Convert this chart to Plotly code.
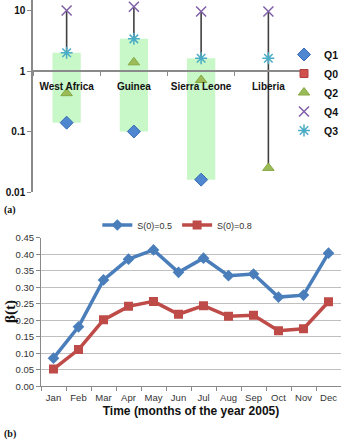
import plotly.graph_objects as go

# ---------------- data: panel (a) ----------------
regions = ["West Africa", "Guinea", "Sierra Leone", "Liberia"]
q1 = [0.14, 0.10, 0.016, None]
q0 = [None, None, None, None]
q2 = [0.43, 1.39, 0.71, 0.025]
q4 = [10.0, 11.5, 9.6, 9.6]
q3 = [2.0, 3.4, 1.62, 1.62]

log_ticks = [0.01, 0.1, 1, 10]
log_tick_labels = ["0.01", "0.1", "1", "10"]

# ---------------- data: panel (b) ----------------
months = ["Jan", "Feb", "Mar", "Apr", "May", "Jun", "Jul", "Aug", "Sep", "Oct", "Nov", "Dec"]
beta_s05 = [0.085, 0.180, 0.322, 0.385, 0.413, 0.345, 0.388, 0.335, 0.340, 0.270, 0.276, 0.403]
beta_s08 = [0.052, 0.111, 0.201, 0.242, 0.257, 0.218, 0.244, 0.212, 0.215, 0.168, 0.174, 0.256]

fig = go.Figure()

# high-low lines (outside the boxes)
seg_x, seg_y = [], []
for i, r in enumerate(regions):
    vals = [v for v in (q1[i], q0[i], q2[i], q3[i], q4[i]) if v is not None]
    hi, lo = max(vals), min(vals)
    if q1[i] is not None and q3[i] is not None:
        top, bot = max(q1[i], q3[i]), min(q1[i], q3[i])
        seg_x += [r, r, None, r, r, None]
        seg_y += [top, hi, None, lo, bot, None]
    else:
        seg_x += [r, r, None]
        seg_y += [lo, hi, None]

# boxes Q1..Q3
box_base = [a if (a is not None and b is not None) else None for a, b in zip(q1, q3)]
box_len = [(b - a) if (a is not None and b is not None) else None for a, b in zip(q1, q3)]
fig.add_trace(go.Bar(x=regions, y=box_len, base=box_base, width=0.42,
                     marker=dict(color="#c8f8c8", line=dict(width=0)),
                     showlegend=False, hoverinfo="skip", xaxis="x", yaxis="y"))
fig.add_trace(go.Scatter(x=seg_x, y=seg_y, mode="lines",
                         line=dict(color="#404040", width=1.6),
                         showlegend=False, hoverinfo="skip", xaxis="x", yaxis="y"))

mk = dict(mode="markers", xaxis="x", yaxis="y", legend="legend", cliponaxis=False)
fig.add_trace(go.Scatter(x=regions, y=q1, name="Q1",
                         marker=dict(symbol="diamond", size=10, color="#4f86d0",
                                     line=dict(color="#3a6db3", width=1)), **mk))
fig.add_trace(go.Scatter(x=regions, y=q0, name="Q0",
                         marker=dict(symbol="square", size=8, color="#d0504d",
                                     line=dict(color="#b04040", width=1)), **mk))
fig.add_trace(go.Scatter(x=regions, y=q2, name="Q2",
                         marker=dict(symbol="triangle-up", size=10, color="#9bbb59",
                                     line=dict(color="#86a844", width=1)), **mk))
fig.add_trace(go.Scatter(x=regions, y=q4, name="Q4",
                         marker=dict(symbol="x-thin-open", size=10, color="#7f5fa8",
                                     line=dict(color="#7f5fa8", width=1.5)), **mk))
fig.add_trace(go.Scatter(x=regions, y=q3, name="Q3",
                         marker=dict(symbol="asterisk-open", size=10, color="#4bacc6",
                                     line=dict(color="#4bacc6", width=1.5)), **mk))

# panel (b)
fig.add_trace(go.Scatter(x=months, y=beta_s05, name="S(0)=0.5", mode="lines+markers",
                         line=dict(color="#4a7ebb", width=3.5),
                         marker=dict(symbol="diamond", size=9, color="#4a7ebb"),
                         xaxis="x2", yaxis="y2", legend="legend2"))
fig.add_trace(go.Scatter(x=months, y=beta_s08, name="S(0)=0.8", mode="lines+markers",
                         line=dict(color="#be4b48", width=3.5),
                         marker=dict(symbol="square", size=9, color="#be4b48"),
                         xaxis="x2", yaxis="y2", legend="legend2"))

W, H = 341, 440
top_dom = [1 - 192 / H, 1.0]
bot_dom = [1 - 386.2 / H, 1 - 237.7 / H]

fig.update_layout(
    width=W, height=H, margin=dict(l=0, r=0, t=0, b=0, autoexpand=False),
    paper_bgcolor="white", plot_bgcolor="white",
    font=dict(family="Liberation Sans", color="#222"),
    barmode="overlay",
    xaxis=dict(domain=[33 / W, 302 / W], type="category", range=[-0.5, 3.5],
               anchor="free", position=1 - 71 / H, tickangle=0, automargin=False,
               tickvals=regions, ticktext=["<b>" + r + "</b>" for r in regions],
               tickfont=dict(size=10, color="#111"), ticklabelstandoff=6,
               showline=True, linecolor="#8a8a8a", linewidth=1.5,
               ticks="outside", tickson="boundaries", ticklen=4, tickcolor="#8a8a8a",
               showgrid=False, zeroline=False, fixedrange=True),
    yaxis=dict(domain=top_dom, type="log", range=[-2, 1.1736], anchor="x", automargin=False,
               tickvals=log_ticks, ticktext=["<b>" + t + "</b>" for t in log_tick_labels],
               tickfont=dict(size=10, color="#111"),
               showline=True, linecolor="#8a8a8a", linewidth=1.5,
               ticks="outside", ticklen=4, tickcolor="#8a8a8a",
               showgrid=False, zeroline=False),
    xaxis2=dict(domain=[41 / W, 1.0], type="category", range=[-0.5, 11.5], anchor="y2",
                tickangle=0, tickfont=dict(size=9.5, color="#333"), automargin=False,
                ticklabelstandoff=2,
                showline=True, linecolor="#8a8a8a", linewidth=1,
                ticks="outside", tickson="boundaries", ticklen=4, tickcolor="#8a8a8a",
                showgrid=False, zeroline=False,
                title=dict(text="<b>Time (months of the year 2005)</b>",
                           font=dict(size=12, color="#111"), standoff=5)),
    yaxis2=dict(domain=bot_dom, range=[0, 0.45], anchor="x2", automargin=False,
                tickvals=[i * 0.05 for i in range(10)], tickformat=".2f",
                tickfont=dict(size=9.5, color="#333"),
                showline=True, linecolor="#8a8a8a", linewidth=1,
                ticks="outside", ticklen=4, tickcolor="#8a8a8a",
                showgrid=True, gridcolor="#c0c0c0", gridwidth=1, zeroline=False),
    legend=dict(x=284 / W, xanchor="left", y=1 - 40 / H, yanchor="top",
                font=dict(size=10.5, color="#111", weight="bold"),
                bgcolor="rgba(0,0,0,0)", itemwidth=30, tracegroupgap=0),
    legend2=dict(orientation="h", x=0.52, xanchor="center", y=1 - 225 / H, yanchor="middle",
                 font=dict(size=9, color="#333"), bgcolor="rgba(0,0,0,0)", itemwidth=30),
    annotations=[
        dict(text="<b>(a)</b>", x=2 / W, y=1 - 210 / H, xref="paper", yref="paper",
             xanchor="left", yanchor="middle", showarrow=False,
             font=dict(family="Liberation Serif", size=10, color="#111")),
        dict(text="<b>(b)</b>", x=2 / W, y=1 - 434 / H, xref="paper", yref="paper",
             xanchor="left", yanchor="middle", showarrow=False,
             font=dict(family="Liberation Serif", size=10, color="#111")),
        dict(text="<b>β(t)</b>", x=10 / W, y=1 - 312 / H, xref="paper", yref="paper",
             xanchor="center", yanchor="middle", showarrow=False, textangle=-90,
             font=dict(family="Liberation Serif", size=15, color="#111")),
    ],
)

fig.write_html("out.html", config={"displayModeBar": False},
               post_script="document.body.style.margin='0px';")
